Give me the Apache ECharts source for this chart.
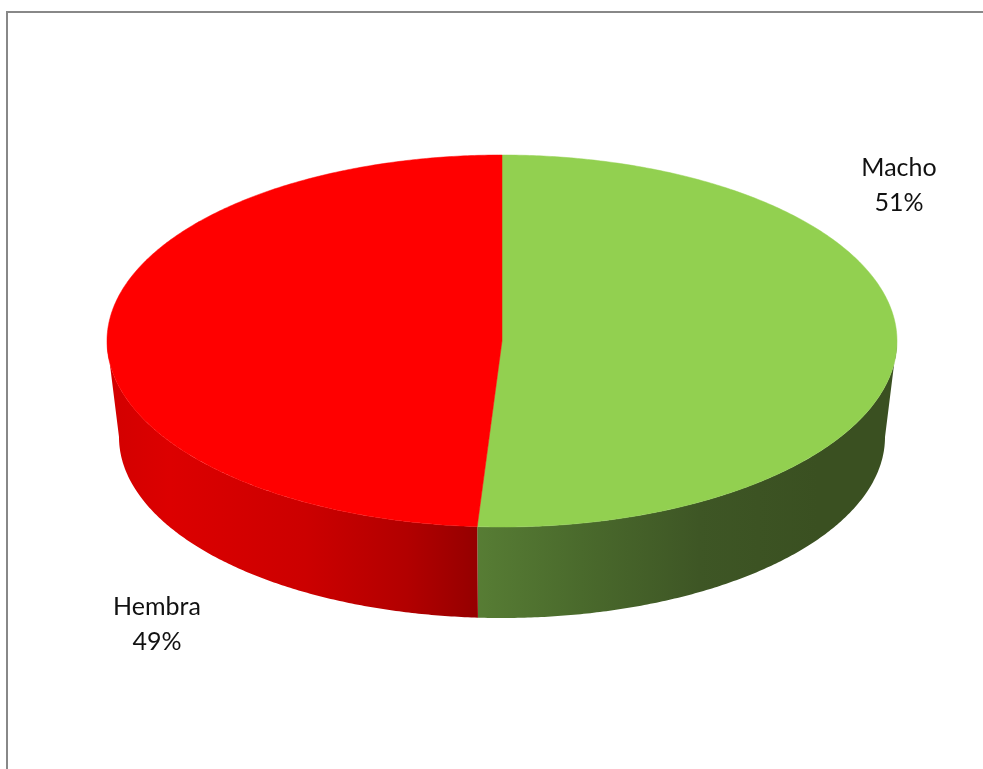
<!DOCTYPE html>
<html>
<head>
<meta charset="utf-8">
<script src="https://cdn.jsdelivr.net/npm/echarts@6/dist/echarts.min.js"></script>
<style>
  html, body { margin: 0; padding: 0; background: #ffffff; }
  #chart { width: 983px; height: 769px; }
</style>
</head>
<body>
<div id="chart"></div>
<script>
// Slice data
const categories = ['Macho', 'Hembra'];
const values = [51, 49];

// Styling per slice: top face colour and side-wall shading
const topColors = ['#92D050', '#FF0000'];
const sideShades = [
  [[0, '#5C8638'], [0.46, '#587E35'], [0.6, '#4A6A2C'], [0.75, '#3E5625'], [0.9, '#3A5021'], [1, '#3A5021']],
  [[0, '#D20000'], [0.08, '#DC0000'], [0.25, '#CC0000'], [0.38, '#B20000'], [0.465, '#960000'], [1, '#960000']]
];

// Projected cylinder geometry (top ellipse and slightly narrower bottom ellipse)
const TOP = { cx: 502, cy: 341, rx: 395, ry: 186 };
const BOT = { cx: 502, cy: 437, rx: 383, ry: 181 };

const total = values.reduce((a, b) => a + b, 0);
const startAngles = [];
values.reduce((acc, v, i) => { startAngles[i] = acc; return acc + v; }, 0);

// angle in degrees, clockwise from 12 o'clock
function pt(e, deg) {
  const t = deg * Math.PI / 180;
  return [e.cx + e.rx * Math.sin(t), e.cy - e.ry * Math.cos(t)];
}

function arc(e, a0, a1) {
  const pts = [];
  const n = Math.max(2, Math.ceil(Math.abs(a1 - a0) / 0.5));
  for (let k = 0; k <= n; k++) pts.push(pt(e, a0 + (a1 - a0) * k / n));
  return pts;
}

function renderItem(params, api) {
  const i = params.dataIndex;
  const v = api.value(1);
  const a0 = startAngles[i] / total * 360;
  const a1 = a0 + v / total * 360;
  const children = [];

  // front-facing part of the wall lies between 90 and 270 degrees
  const s0 = Math.max(a0, 90), s1 = Math.min(a1, 270);
  if (s1 > s0) {
    const poly = arc(TOP, s0, s1).concat(arc(BOT, s0, s1).reverse());
    children.push({
      type: 'polygon',
      z2: 1,
      shape: { points: poly },
      style: {
        fill: {
          type: 'linear', global: true,
          x: TOP.cx - TOP.rx, y: 0, x2: TOP.cx + TOP.rx, y2: 0,
          colorStops: sideShades[i].map(s => ({ offset: s[0], color: s[1] }))
        },
        stroke: null
      }
    });
  }

  // top face
  const topPts = [[TOP.cx, TOP.cy]].concat(arc(TOP, a0, a1));
  children.push({
    type: 'polygon',
    z2: 2,
    shape: { points: topPts },
    style: { fill: topColors[i], stroke: topColors[i], lineWidth: 0.5 }
  });

  return { type: 'group', children: children };
}

const labelFont = { fontFamily: 'Lato, "Open Sans", sans-serif', fontSize: 25, lineHeight: 35, fill: '#111111' };
function labelText(i) {
  return categories[i] + '\n' + Math.round(values[i] / total * 100) + '%';
}

const chart = echarts.init(document.getElementById('chart'), null, { renderer: 'canvas' });
chart.setOption({
  animation: false,
  backgroundColor: '#ffffff',
  series: [{
    type: 'custom',
    coordinateSystem: 'none',
    renderItem: renderItem,
    data: categories.map((c, i) => [c, values[i]])
  }],
  graphic: [
    {
      type: 'polyline',
      shape: { points: [[7, 769], [7, 12], [983, 12]] },
      style: { stroke: '#888888', lineWidth: 2, fill: null }
    },
    {
      type: 'text', x: 899, y: 185,
      style: Object.assign({ text: labelText(0), align: 'center', verticalAlign: 'middle' }, labelFont)
    },
    {
      type: 'text', x: 157, y: 624,
      style: Object.assign({ text: labelText(1), align: 'center', verticalAlign: 'middle' }, labelFont)
    }
  ]
});
</script>
</body>
</html>
